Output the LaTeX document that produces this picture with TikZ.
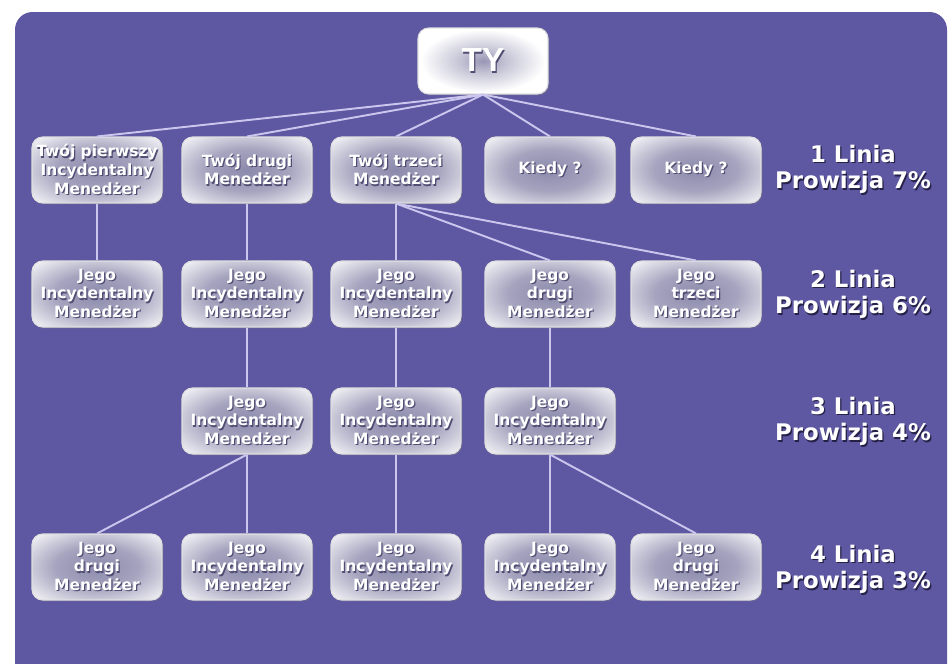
\documentclass[tikz,border=0pt]{standalone}
\usepackage{fontspec}
\setmainfont{DejaVu Sans}
\newfontfamily\tyfont{Liberation Sans}
\usetikzlibrary{positioning,shadows}
\usepackage{xcolor}
\definecolor{panelviolet}{RGB}{94,87,162}
\definecolor{linklilac}{RGB}{202,198,238}
\definecolor{glowgrey}{RGB}{140,138,172}
\definecolor{txtshade}{RGB}{80,76,114}
\definecolor{lblshade}{RGB}{36,32,70}

\pgfdeclareradialshading{boxglow}{\pgfpoint{0bp}{0bp}}{color(0bp)=(glowgrey); color(16bp)=(glowgrey!78!white); color(37bp)=(white); color(50bp)=(white)}
\pgfdeclareradialshading{tyglow}{\pgfpoint{0bp}{0bp}}{color(0bp)=(glowgrey!90!white); color(9bp)=(glowgrey!50!white); color(24bp)=(white); color(50bp)=(white)}

% white text with a darker copy behind it
\newcommand{\shd}[2][txtshade]{\leavevmode\rlap{\kern0.7pt\raisebox{-0.7pt}{\textcolor{#1}{#2}}}#2}
\newcommand{\jego}[1]{\shd{Jego}\\\shd{#1}\\\shd{Menedżer}}

\begin{document}
\begin{tikzpicture}[
  x=0.02cm, y=-0.02cm,
  manager/.style={rectangle,rounded corners=6pt,draw=white!75!gray,line width=0.6pt,shade,shading=boxglow,minimum width=2.6cm,minimum height=1.32cm,inner sep=1pt,align=center,text=white,font=\fontsize{8.8}{10.6}\selectfont\bfseries,drop shadow={opacity=0.35,shadow xshift=0.8pt,shadow yshift=-0.8pt}},
  lineinfo/.style={text=white,font=\fontsize{13}{15}\selectfont\bfseries,align=center},
  link/.style={linklilac,line width=1.1pt}
]
\useasboundingbox (0,0) rectangle (952,663);
\fill[white] (0,0) rectangle (952,663);
\fill[panelviolet,rounded corners=10pt] (15,12) rectangle (947,700);

\node[manager,shading=tyglow,font=\tyfont\fontsize{19}{21}\selectfont\bfseries] (ty) at (483,61) {\shd{TY}};

% 1 linia
\node[manager] (a1) at (97,170) {\shd{Twój pierwszy}\\\shd{Incydentalny}\\\shd{Menedżer}};
\node[manager] (a2) at (247,170) {\shd{Twój drugi}\\\shd{Menedżer}};
\node[manager] (a3) at (396,170) {\shd{Twój trzeci}\\\shd{Menedżer}};
\node[manager] (a4) at (550,170) {\shd{Kiedy ?}};
\node[manager] (a5) at (696,170) {\shd{Kiedy ?}};

% 2 linia
\node[manager] (b1) at (97,294) {\jego{Incydentalny}};
\node[manager] (b2) at (247,294) {\jego{Incydentalny}};
\node[manager] (b3) at (396,294) {\jego{Incydentalny}};
\node[manager] (b4) at (550,294) {\jego{drugi}};
\node[manager] (b5) at (696,294) {\jego{trzeci}};

% 3 linia
\node[manager] (c2) at (247,421) {\jego{Incydentalny}};
\node[manager] (c3) at (396,421) {\jego{Incydentalny}};
\node[manager] (c4) at (550,421) {\jego{Incydentalny}};

% 4 linia
\node[manager] (d1) at (97,567) {\jego{drugi}};
\node[manager] (d2) at (247,567) {\jego{Incydentalny}};
\node[manager] (d3) at (396,567) {\jego{Incydentalny}};
\node[manager] (d4) at (550,567) {\jego{Incydentalny}};
\node[manager] (d5) at (696,567) {\jego{drugi}};

\node[lineinfo] (lin1) at (853,170) {\shd[lblshade]{1 Linia}\\\shd[lblshade]{Prowizja 7\%}};
\node[lineinfo] (lin2) at (853,295) {\shd[lblshade]{2 Linia}\\\shd[lblshade]{Prowizja 6\%}};
\node[lineinfo] (lin3) at (853,422) {\shd[lblshade]{3 Linia}\\\shd[lblshade]{Prowizja 4\%}};
\node[lineinfo] (lin4) at (853,570) {\shd[lblshade]{4 Linia}\\\shd[lblshade]{Prowizja 3\%}};

\foreach \n in {a1,a2,a3,a4,a5}
  \draw[link] (ty.south) -- (\n.north);
\draw[link] (a1) -- (b1);
\draw[link] (a2) -- (b2);
\draw[link] (a3) -- (b3);
\draw[link] (a3.south) -- (b4.north);
\draw[link] (a3.south) -- (b5.north);
\draw[link] (b2) -- (c2);
\draw[link] (b3) -- (c3);
\draw[link] (b4) -- (c4);
\draw[link] (c2.south) -- (d1.north);
\draw[link] (c2) -- (d2);
\draw[link] (c3) -- (d3);
\draw[link] (c4) -- (d4);
\draw[link] (c4.south) -- (d5.north);

\end{tikzpicture}
\end{document}
